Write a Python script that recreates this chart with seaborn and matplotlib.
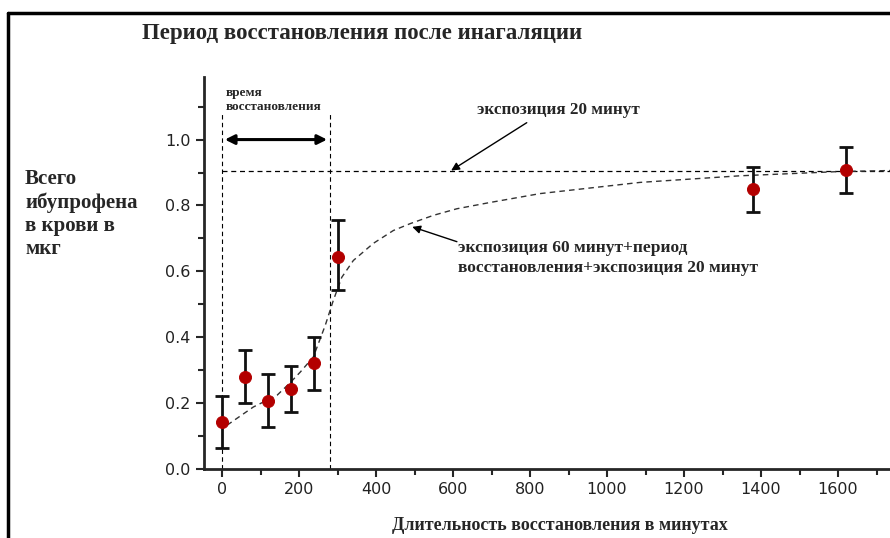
import numpy as np
import pandas as pd
import matplotlib
matplotlib.use("Agg")
import matplotlib.pyplot as plt
from matplotlib.ticker import MultipleLocator, FormatStrFormatter
import seaborn as sns

# -------------------- данные --------------------
minutes = [0, 60, 120, 180, 240, 300, 1380, 1620]
ibuprofen = [0.142, 0.279, 0.206, 0.242, 0.321, 0.645, 0.851, 0.909]
err_low = [0.064, 0.200, 0.127, 0.173, 0.240, 0.542, 0.779, 0.839]
err_high = [0.221, 0.360, 0.288, 0.312, 0.400, 0.755, 0.918, 0.976]

# кривая
fit_x = [13, 81, 143, 177, 203, 237, 268, 289, 311, 341, 393, 445, 489, 549, 610,
         696, 826, 1086, 1345, 1605, 1735]
fit_y = [0.133, 0.188, 0.224, 0.262, 0.294, 0.340, 0.436, 0.512, 0.582, 0.633, 0.685,
         0.724, 0.745, 0.770, 0.790, 0.809, 0.836, 0.870, 0.890, 0.903, 0.906]

level_20min = 0.906
recovery_end = 280

df = pd.DataFrame({"t": minutes, "v": ibuprofen})
fit = pd.DataFrame({"t": fit_x, "v": fit_y})

sns.set_theme(style="ticks")
serif = ["Liberation Serif", "DejaVu Serif"]

fig = plt.figure(figsize=(8.9, 5.38), dpi=100)
ax = fig.add_axes([0.2292, 0.1283, 0.7708, 0.7286])

# рамка рисунка (слева и сверху)
fig.add_artist(plt.Line2D([8 / 890, 8 / 890], [0, 1 - 13 / 538], color="black", lw=2.5,
                          transform=fig.transFigure))
fig.add_artist(plt.Line2D([8 / 890, 1], [1 - 13 / 538, 1 - 13 / 538], color="black", lw=2.5,
                          transform=fig.transFigure))

# вспомогательные линии
ax.axhline(level_20min, xmin=(0 + 47) / (1735 + 47), color="black", lw=0.9, ls=(0, (4, 3)))
ax.plot([0, 0], [0, 1.08], color="black", lw=0.8, ls=(0, (4, 3)))
ax.plot([recovery_end, recovery_end], [0, 1.08], color="black", lw=0.8, ls=(0, (4, 3)))

sns.lineplot(data=fit, x="t", y="v", ax=ax, color="#333333", lw=1.0,
             linestyle=(0, (4, 3)), legend=False)

yerr = [np.array(ibuprofen) - np.array(err_low), np.array(err_high) - np.array(ibuprofen)]
ax.errorbar(minutes, ibuprofen, yerr=yerr, fmt="none", ecolor="#111111",
            elinewidth=2, capsize=5, capthick=2, zorder=3)
sns.scatterplot(data=df, x="t", y="v", ax=ax, color="#b30000", s=75,
                marker="o", edgecolor="#b30000", zorder=4, legend=False)

# стрелка "время восстановления"
ax.annotate("", xy=(recovery_end, 1.0), xytext=(0, 1.0),
            arrowprops=dict(arrowstyle="<|-|>", color="black", lw=2.2, mutation_scale=14))
ax.text(8, 1.082, "время\nвосстановления", fontsize=9.5, fontweight="bold",
        family=serif, va="bottom", ha="left", linespacing=1.2)

# подписи
ax.annotate("экспозиция 20 минут", xy=(595, level_20min), xytext=(663, 1.09),
            fontsize=12.3, fontweight="bold", family=serif, ha="left", va="center",
            arrowprops=dict(arrowstyle="-|>", color="black", lw=1.0, mutation_scale=12,
                            shrinkA=2, shrinkB=0, relpos=(0.35, 0)))
ax.text(612, 0.64, "экспозиция 60 минут+период\nвосстановления+экспозиция 20 минут",
        fontsize=12.5, fontweight="bold", family=serif, ha="left", va="center",
        linespacing=1.35)
ax.annotate("", xy=(494, 0.735), xytext=(610, 0.69),
            arrowprops=dict(arrowstyle="-|>", color="black", lw=1.0, mutation_scale=12,
                            shrinkA=0, shrinkB=0))

ax.set_xlim(-47, 1735)
ax.set_ylim(0, 1.19)
ax.xaxis.set_major_locator(MultipleLocator(200))
ax.xaxis.set_minor_locator(MultipleLocator(100))
ax.yaxis.set_major_locator(MultipleLocator(0.2))
ax.yaxis.set_minor_locator(MultipleLocator(0.1))
ax.yaxis.set_major_formatter(FormatStrFormatter("%.1f"))
ax.tick_params(which="major", length=6, width=1.5, labelsize=11.5, labelcolor="#222222")
ax.tick_params(which="minor", length=4, width=1.5)
sns.despine(ax=ax)
ax.spines["left"].set_linewidth(2)
ax.spines["bottom"].set_linewidth(2)
ax.set_xlabel("")
ax.set_ylabel("")

fig.text(362 / 890, 1 - 33 / 538, "Период восстановления после инагаляции", fontsize=16.5,
         fontweight="bold", family=serif, ha="center", va="center")
fig.text(25 / 890, 1 - 214 / 538, "Всего\nибупрофена\nв крови в\nмкг", fontsize=15,
         fontweight="bold", family=serif, ha="left", va="center", linespacing=1.2)
fig.text(560 / 890, 1 - 525 / 538, "Длительность восстановления в минутах", fontsize=13,
         fontweight="bold", family=serif, ha="center", va="center")

fig.savefig("out.png", dpi=100)
